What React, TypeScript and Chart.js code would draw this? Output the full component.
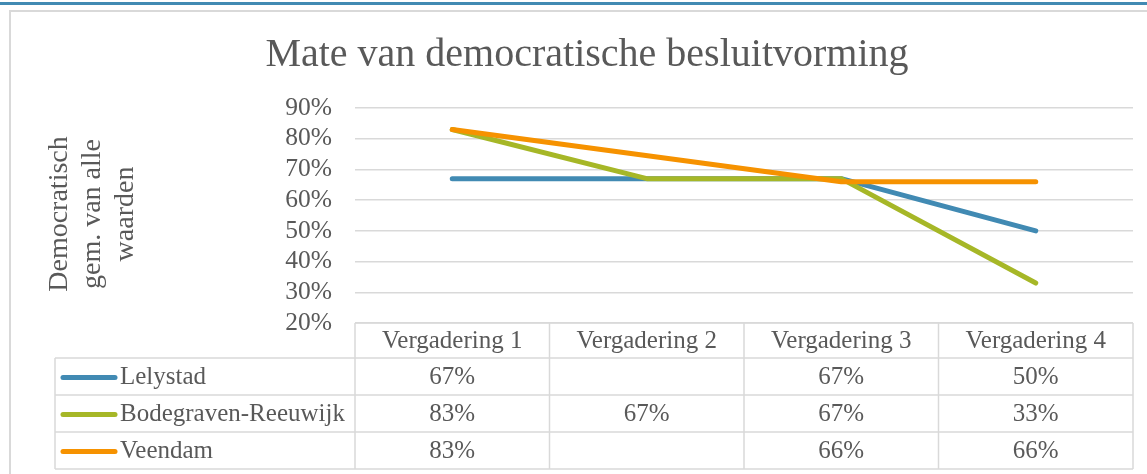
import React, { useEffect, useRef } from 'react';
import { Chart, registerables } from 'chart.js';

Chart.register(...registerables);

const categories = ['Vergadering 1', 'Vergadering 2', 'Vergadering 3', 'Vergadering 4'];
const lelystad: (number | null)[] = [67, null, 67, 50];
const bodegraven: (number | null)[] = [83, 67, 67, 33];
const veendam: (number | null)[] = [83, null, 66, 66];
const seriesNames = ['Lelystad', 'Bodegraven-Reeuwijk', 'Veendam'];
const seriesColors = ['#418AB3', '#A6B727', '#F69200'];
const yMin = 20;
const yMax = 90;
const yStep = 10;
const chartTitle = 'Mate van democratische besluitvorming';
const yTitleLines = ['Democratisch', 'gem. van alle', 'waarden'];

const FONT = "'Liberation Serif', serif";
const TEXT = '#595959';
const GRID = '#d9d9d9';

const framePlugin = {
  id: 'frameAndTable',
  beforeDraw(chart: any) {
    const ctx = chart.ctx;
    ctx.save();
    ctx.fillStyle = '#ffffff';
    ctx.fillRect(0, 0, chart.width, chart.height);
    ctx.fillStyle = '#418AB3';
    ctx.fillRect(0, 2, chart.width, 3);
    ctx.strokeStyle = GRID;
    ctx.lineWidth = 2;
    ctx.strokeRect(10, 11, chart.width + 20, chart.height + 20);
    ctx.restore();
  },
  afterDraw(chart: any) {
    const ctx = chart.ctx;
    const area = chart.chartArea;
    ctx.save();
    // title
    ctx.fillStyle = TEXT;
    ctx.font = `40px ${FONT}`;
    ctx.textAlign = 'center';
    ctx.textBaseline = 'alphabetic';
    ctx.fillText(chartTitle, 587, 66);

    // y axis title
    ctx.save();
    ctx.translate(93, 214);
    ctx.rotate(-Math.PI / 2);
    ctx.font = `28px ${FONT}`;
    ctx.textAlign = 'center';
    ctx.textBaseline = 'middle';
    yTitleLines.forEach((l, i) => {
      ctx.fillText(l, 0, (i - 1) * 33);
    });
    ctx.restore();

    // data table
    const seriesData = [lelystad, bodegraven, veendam];
    const n = categories.length;
    const colW = (area.right - area.left) / n;
    const top = area.bottom;
    const headerH = 35;
    const rowH = 37;
    const tableLeft = 55;
    const bottom = top + headerH + rowH * seriesData.length;
    ctx.strokeStyle = GRID;
    ctx.lineWidth = 1.5;
    ctx.beginPath();
    ctx.moveTo(area.left, top);
    ctx.lineTo(area.right, top);
    for (let r = 0; r <= seriesData.length; r++) {
      const y = top + headerH + r * rowH;
      ctx.moveTo(tableLeft, y);
      ctx.lineTo(area.right, y);
    }
    for (let c = 0; c <= n; c++) {
      const x = area.left + c * colW;
      ctx.moveTo(x, top);
      ctx.lineTo(x, bottom);
    }
    ctx.moveTo(tableLeft, top + headerH);
    ctx.lineTo(tableLeft, bottom);
    ctx.stroke();

    ctx.font = `25px ${FONT}`;
    ctx.fillStyle = TEXT;
    ctx.textAlign = 'center';
    ctx.textBaseline = 'middle';
    const xs = chart.scales.x;
    categories.forEach((c, i) => {
      ctx.fillText(c, xs.getPixelForValue(i), top + headerH / 2 + 1);
    });
    seriesData.forEach((d, r) => {
      const cy = top + headerH + r * rowH + rowH / 2 + 1;
      ctx.strokeStyle = seriesColors[r];
      ctx.lineWidth = 5;
      ctx.lineCap = 'round';
      ctx.beginPath();
      ctx.moveTo(63, cy);
      ctx.lineTo(115, cy);
      ctx.stroke();
      ctx.fillStyle = TEXT;
      ctx.textAlign = 'left';
      ctx.fillText(seriesNames[r], 120, cy);
      ctx.textAlign = 'center';
      d.forEach((v, i) => {
        if (v !== null && v !== undefined) {
          ctx.fillText(`${v}%`, xs.getPixelForValue(i), cy);
        }
      });
    });
    ctx.restore();
  },
};

export default function App() {
  const ref = useRef<HTMLCanvasElement | null>(null);
  useEffect(() => {
    if (!ref.current) return;
    const mk = (label: string, data: (number | null)[], color: string, order: number) => ({
      label,
      data,
      borderColor: color,
      backgroundColor: color,
      borderWidth: 5,
      borderCapStyle: 'round',
      borderJoinStyle: 'round',
      pointRadius: 0,
      pointHoverRadius: 0,
      spanGaps: true,
      tension: 0,
      order,
    });
    const chart = new Chart(ref.current, {
      type: 'line',
      data: {
        labels: categories,
        datasets: [
          mk(seriesNames[0], lelystad, seriesColors[0], 2),
          mk(seriesNames[1], bodegraven, seriesColors[1], 1),
          mk(seriesNames[2], veendam, seriesColors[2], 0),
        ] as any,
      },
      options: {
        responsive: false,
        animation: false,
        devicePixelRatio: 1,
        layout: { padding: { left: 0, top: 108, right: 14, bottom: 151 } },
        plugins: {
          legend: { display: false },
          title: { display: false },
          tooltip: { enabled: false },
        },
        scales: {
          x: {
            type: 'category',
            display: false,
            offset: true,
          },
          y: {
            min: yMin,
            max: yMax,
            border: { display: false },
            grid: { color: GRID, lineWidth: 1.5, drawTicks: false },
            ticks: {
              stepSize: yStep,
              autoSkip: false,
              padding: 23,
              color: TEXT,
              font: { family: FONT, size: 25.5 },
              callback: (v: any) => `${v}%`,
            },
            afterFit: (s: any) => {
              s.width = 355;
            },
          },
        },
      } as any,
      plugins: [framePlugin],
    });
    return () => chart.destroy();
  }, []);
  return (
    <div style={{ position: 'fixed', left: 0, top: 0, width: 1147, height: 474 }}>
      <canvas ref={ref} width={1147} height={474} style={{ width: 1147, height: 474, display: 'block' }} />
    </div>
  );
}
